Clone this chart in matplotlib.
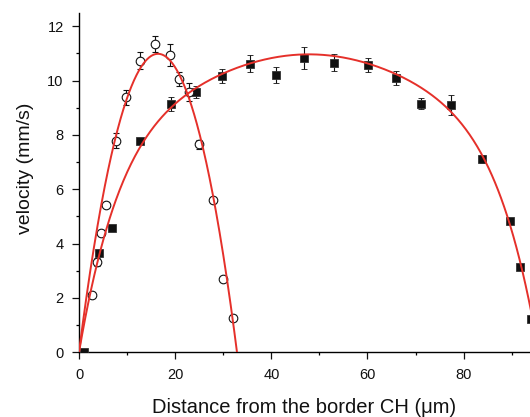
import numpy as np
import matplotlib
matplotlib.use("Agg")
import matplotlib.pyplot as plt

plt.rcParams['font.family'] = ['Liberation Sans', 'DejaVu Sans']

# Open circles: narrow channel profile
circ_x = [2.70, 3.68, 4.64, 5.68, 7.70, 9.71, 12.75, 15.87, 18.86, 20.86,
          22.82, 24.96, 27.93, 30.01, 32.03]
circ_y = [2.10, 3.32, 4.39, 5.43, 7.79, 9.39, 10.74, 11.35, 10.94, 10.07,
          9.58, 7.66, 5.59, 2.69, 1.26]
circ_err = [0.08, 0.15, 0.10, 0.10, 0.28, 0.27, 0.32, 0.30, 0.40, 0.26,
            0.34, 0.16, 0.10, 0.06, 0.10]

# Filled squares: wide channel profile
sq_x = [0.97, 4.21, 6.91, 12.68, 19.13, 24.27, 29.74, 35.50, 40.97, 46.73,
        52.97, 60.04, 65.87, 71.19, 77.43, 83.75, 89.57, 91.72, 94.0]
sq_y = [0.0, 3.66, 4.59, 7.77, 9.14, 9.58, 10.16, 10.62, 10.21, 10.84,
        10.66, 10.57, 10.10, 9.15, 9.10, 7.11, 4.83, 3.14, 1.24]
sq_err = [0.0, 0.10, 0.10, 0.12, 0.26, 0.21, 0.26, 0.31, 0.28, 0.40,
          0.32, 0.25, 0.25, 0.20, 0.36, 0.15, 0.10, 0.10, 0.10]

# Fitted profile parameters: v = x (L - x) (c0 + c2 d^2 + c4 d^4), d = x - L/2
fit_narrow = dict(L=32.86, c0=0.0407, c2=6e-6, c4=0.0)
fit_wide = dict(L=95.6, c0=0.0048, c2=1.1e-6, c4=6.7e-10)


def profile(x, L, c0, c2, c4):
    d = x - L / 2.0
    return x * (L - x) * (c0 + c2 * d ** 2 + c4 * d ** 4)


xticks = [0, 20, 40, 60, 80]
yticks = [0, 2, 4, 6, 8, 10, 12]

fig = plt.figure(figsize=(5.30, 4.17), dpi=100)
ax = fig.add_axes([79 / 530, 64.7 / 417, 451 / 530, 339.6 / 417])

ax.errorbar(sq_x, sq_y, yerr=sq_err, fmt='s', ms=5.4, mfc='#111111',
            mec='#333333', mew=0.6, ecolor='#111111', elinewidth=0.8,
            capsize=2.4, capthick=0.8, zorder=3)
ax.errorbar(circ_x, circ_y, yerr=circ_err, fmt='o', ms=6.2, mfc='white',
            mec='#111111', mew=0.8, ecolor='#111111', elinewidth=0.8,
            capsize=2.4, capthick=0.8, zorder=3)

xn = np.linspace(0, fit_narrow['L'], 300)
ax.plot(xn, profile(xn, **fit_narrow), color='#e5302a', lw=1.4, zorder=4)
xw = np.linspace(0, fit_wide['L'], 600)
ax.plot(xw, profile(xw, **fit_wide), color='#e5302a', lw=1.4, zorder=4)

ax.set_xlim(0, 93.8)
ax.set_ylim(0, 12.5)
ax.set_xticks(xticks)
ax.set_xticks([10, 30, 50, 70, 90], minor=True)
ax.set_yticks(yticks)
ax.set_yticks([1, 3, 5, 7, 9, 11], minor=True)

for side in ('top', 'right'):
    ax.spines[side].set_visible(False)
for side in ('left', 'bottom'):
    ax.spines[side].set_linewidth(1.0)

ax.tick_params(which='major', direction='out', length=5, width=0.9,
               labelsize=10.5, pad=6, colors='#111111')
ax.tick_params(which='minor', direction='out', length=2.4, width=0.9)

ax.set_xlabel('Distance from the border CH (\u03bcm)', fontsize=14.5,
              color='#111111')
ax.set_ylabel('velocity (mm/s)', fontsize=14, color='#111111')
ax.xaxis.label.set_va('baseline')
ax.xaxis.set_label_coords(0.5, -0.1787)
ax.yaxis.label.set_va('center')
ax.yaxis.set_label_coords(-0.118, 0.543)

fig.savefig('out.png', dpi=100)
